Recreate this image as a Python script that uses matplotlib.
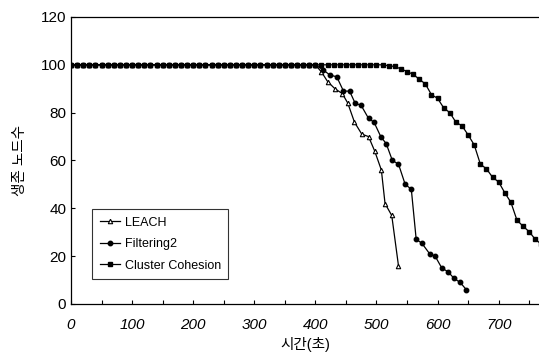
import numpy as np
import matplotlib.pyplot as plt

plt.rcParams['font.family'] = ['Liberation Sans', 'Noto Sans CJK KR', 'DejaVu Sans']

# flat part: every series is at 100 nodes until it starts losing nodes
flat_t = list(range(0, 400, 10))

leach_t = flat_t + [400, 410, 420, 432, 444, 453, 464, 476, 487, 497, 508, 514, 525, 536]
leach_v = [100] * len(flat_t) + [100, 97, 93, 90, 88, 84, 76, 71, 70, 64, 56, 42, 37, 16]

filt_t = flat_t + [400, 412, 424, 435, 446, 456, 465, 475, 487, 496, 507, 516, 526, 536,
                   547, 557, 565, 574, 587, 596, 607, 617, 627, 637, 647]
filt_v = [100] * len(flat_t) + [100, 98, 95.7, 95, 89, 89, 84, 83, 77.6, 76, 70, 67, 60, 58.5,
                                50, 48, 27, 25.5, 21, 20, 15, 13.5, 10.7, 9, 6]

clus_t = list(range(0, 520, 10)) + [520, 530, 540, 550, 560, 570, 580, 590, 600, 610, 620, 630,
                                    640, 650, 660, 670, 680, 690, 700, 710, 720, 730, 740, 750,
                                    760, 770]
clus_v = [100] * 52 + [99.6, 99.3, 98.3, 97.2, 96, 94, 92, 87.5, 86, 82, 80, 76,
                       74.5, 70.7, 66.5, 58.5, 56.5, 53, 51, 46.5, 42.5, 35, 32.5, 30.2,
                       27, 25]

fig = plt.figure(figsize=(5.39, 3.6), dpi=100)
ax = fig.add_axes([0.1317, 0.1556, 0.8683, 0.7972])

ax.plot(leach_t, leach_v, color='black', lw=0.9, marker='^', ms=3.2,
        mfc='white', mec='black', mew=0.8, label='LEACH')
ax.plot(filt_t, filt_v, color='black', lw=0.9, marker='o', ms=3.2,
        mfc='black', mec='black', label='Filtering2')
ax.plot(clus_t, clus_v, color='black', lw=0.9, marker='s', ms=3.4,
        mfc='black', mec='black', label='Cluster Cohesion')

ax.set_xlim(0, 766)
ax.set_ylim(0, 120)
ax.set_xticks(np.arange(0, 800, 100))
ax.set_xticks(np.arange(50, 800, 100), minor=True)
ax.set_yticks(np.arange(0, 140, 20))
ax.tick_params(axis='both', which='both', direction='in', length=3, width=0.8,
               labelsize=11)
ax.tick_params(axis='x', pad=10)
for lbl in ax.get_xticklabels():
    lbl.set_fontstyle('italic')
ax.spines['right'].set_visible(False)
for s in ['left', 'top', 'bottom']:
    ax.spines[s].set_linewidth(0.9)

ax.set_xlabel('시간(초)', fontsize=10.5, labelpad=4)
ax.set_ylabel('생존 노드수', fontsize=10.5, labelpad=10)

leg = ax.legend(loc='lower left', bbox_to_anchor=(0.045, 0.087), borderaxespad=0,
                fontsize=9, frameon=True, fancybox=False, edgecolor='black',
                handlelength=1.6, borderpad=0.6, labelspacing=0.75, handletextpad=0.4)
leg.get_frame().set_linewidth(0.8)

fig.savefig('out.png', dpi=100)
